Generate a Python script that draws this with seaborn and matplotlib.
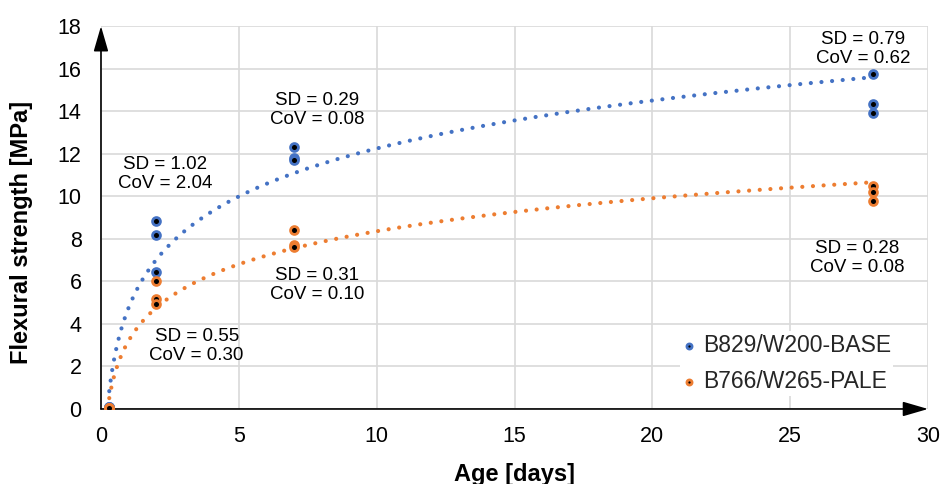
import numpy as np
import pandas as pd
import matplotlib
matplotlib.use("Agg")
import matplotlib.pyplot as plt
import seaborn as sns

# Mix designs and their colours
series_names = ["B829/W200-BASE", "B766/W265-PALE"]
series_colors = ["#4472C4", "#ED7D31"]

# Test ages [days] and flexural strength of each specimen [MPa]
ages = [0.3, 0.3, 0.3, 2, 2, 2, 7, 7, 7, 28, 28, 28]
base_strength = [0.1, 0.1, 0.1, 8.85, 8.2, 6.45, 12.3, 11.8, 11.7, 15.75, 14.35, 13.9]
pale_strength = [0.05, 0.05, 0.05, 6.0, 5.15, 4.95, 8.4, 7.7, 7.6, 10.5, 10.2, 9.8]

# Scatter statistics written next to each group of specimens
stat_labels = [
    "SD = 1.02\nCoV = 2.04",
    "SD = 0.29\nCoV = 0.08",
    "SD = 0.79\nCoV = 0.62",
    "SD = 0.28\nCoV = 0.08",
    "SD = 0.31\nCoV = 0.10",
    "SD = 0.55\nCoV = 0.30",
]
stat_x = [2.32, 7.83, 27.64, 27.42, 7.83, 3.47]
stat_y = [11.04, 14.05, 16.92, 7.1, 5.83, 2.96]

x_ticks = list(range(0, 31, 5))
y_ticks = list(range(0, 19, 2))

df = pd.DataFrame({
    "Age": ages * 2,
    "Strength": base_strength + pale_strength,
    "Mix": [series_names[0]] * len(ages) + [series_names[1]] * len(ages),
})

sns.set_theme(style="whitegrid")
plt.rcParams["font.family"] = ["Liberation Sans", "DejaVu Sans"]

fig = plt.figure(figsize=(9.42, 4.84), dpi=100)
ax = fig.add_axes([0.1072, 0.155, 0.878, 0.791])

curve_x = np.geomspace(0.3, 28, 200)
for name, col in zip(series_names, series_colors):
    sub = df[df["Mix"] == name]
    # logarithmic trend line fitted to the specimens
    slope, intercept = np.polyfit(np.log(sub["Age"]), sub["Strength"], 1)
    sns.lineplot(x=curve_x, y=slope * np.log(curve_x) + intercept, ax=ax,
                 color=col, lw=3.0, linestyle=(0, (0.01, 2.55)),
                 dash_capstyle="round", legend=False, zorder=2)
for name, col in zip(series_names, series_colors):
    sub = df[df["Mix"] == name]
    sns.scatterplot(data=sub, x="Age", y="Strength", ax=ax, color="black",
                    edgecolor=col, linewidth=2.0, s=32, label=name, zorder=4)

for txt, tx, ty in zip(stat_labels, stat_x, stat_y):
    ax.text(tx, ty, txt, ha="center", va="center", fontsize=13.5,
            color="black", linespacing=1.2, zorder=5)

ax.set_xlim(0, 30)
ax.set_ylim(0, 18)
ax.set_xticks(x_ticks)
ax.set_yticks(y_ticks)
ax.grid(True, color="#d9d9d9", lw=1.2)
ax.set_axisbelow(True)
for sp in ax.spines.values():
    sp.set_visible(False)
ax.tick_params(axis="both", length=0, labelsize=15.5, colors="black")
ax.tick_params(axis="x", pad=12)
ax.tick_params(axis="y", pad=14)

ax.set_xlabel("Age [days]", fontsize=17, fontweight="bold", color="black")
ax.set_ylabel("Flexural strength [MPa]", fontsize=17, fontweight="bold",
              color="black", va="center")
ax.xaxis.set_label_coords(0.5, -0.14)
ax.yaxis.set_label_coords(-0.0955, 0.462)

# axis lines with arrow heads
arrow_style = "-|>,head_length=1.55,head_width=0.45"
ax.annotate("", xy=(0, 1), xytext=(0, 0), xycoords="axes fraction",
            arrowprops=dict(arrowstyle=arrow_style, color="black", lw=1.2,
                            shrinkA=0, shrinkB=0, mutation_scale=10))
ax.annotate("", xy=(1, 0), xytext=(0, 0), xycoords="axes fraction",
            arrowprops=dict(arrowstyle=arrow_style, color="black", lw=1.2,
                            shrinkA=0, shrinkB=0, mutation_scale=10))

leg = ax.legend(loc="lower right", bbox_to_anchor=(0.972, 0.005), fontsize=16.5,
                frameon=True, facecolor="white", edgecolor="none",
                framealpha=1, markerscale=0.65, handlelength=0.6,
                handletextpad=0.3, labelspacing=0.6, borderpad=0.1)
leg.set_zorder(6)

fig.savefig("out.png", dpi=100)
